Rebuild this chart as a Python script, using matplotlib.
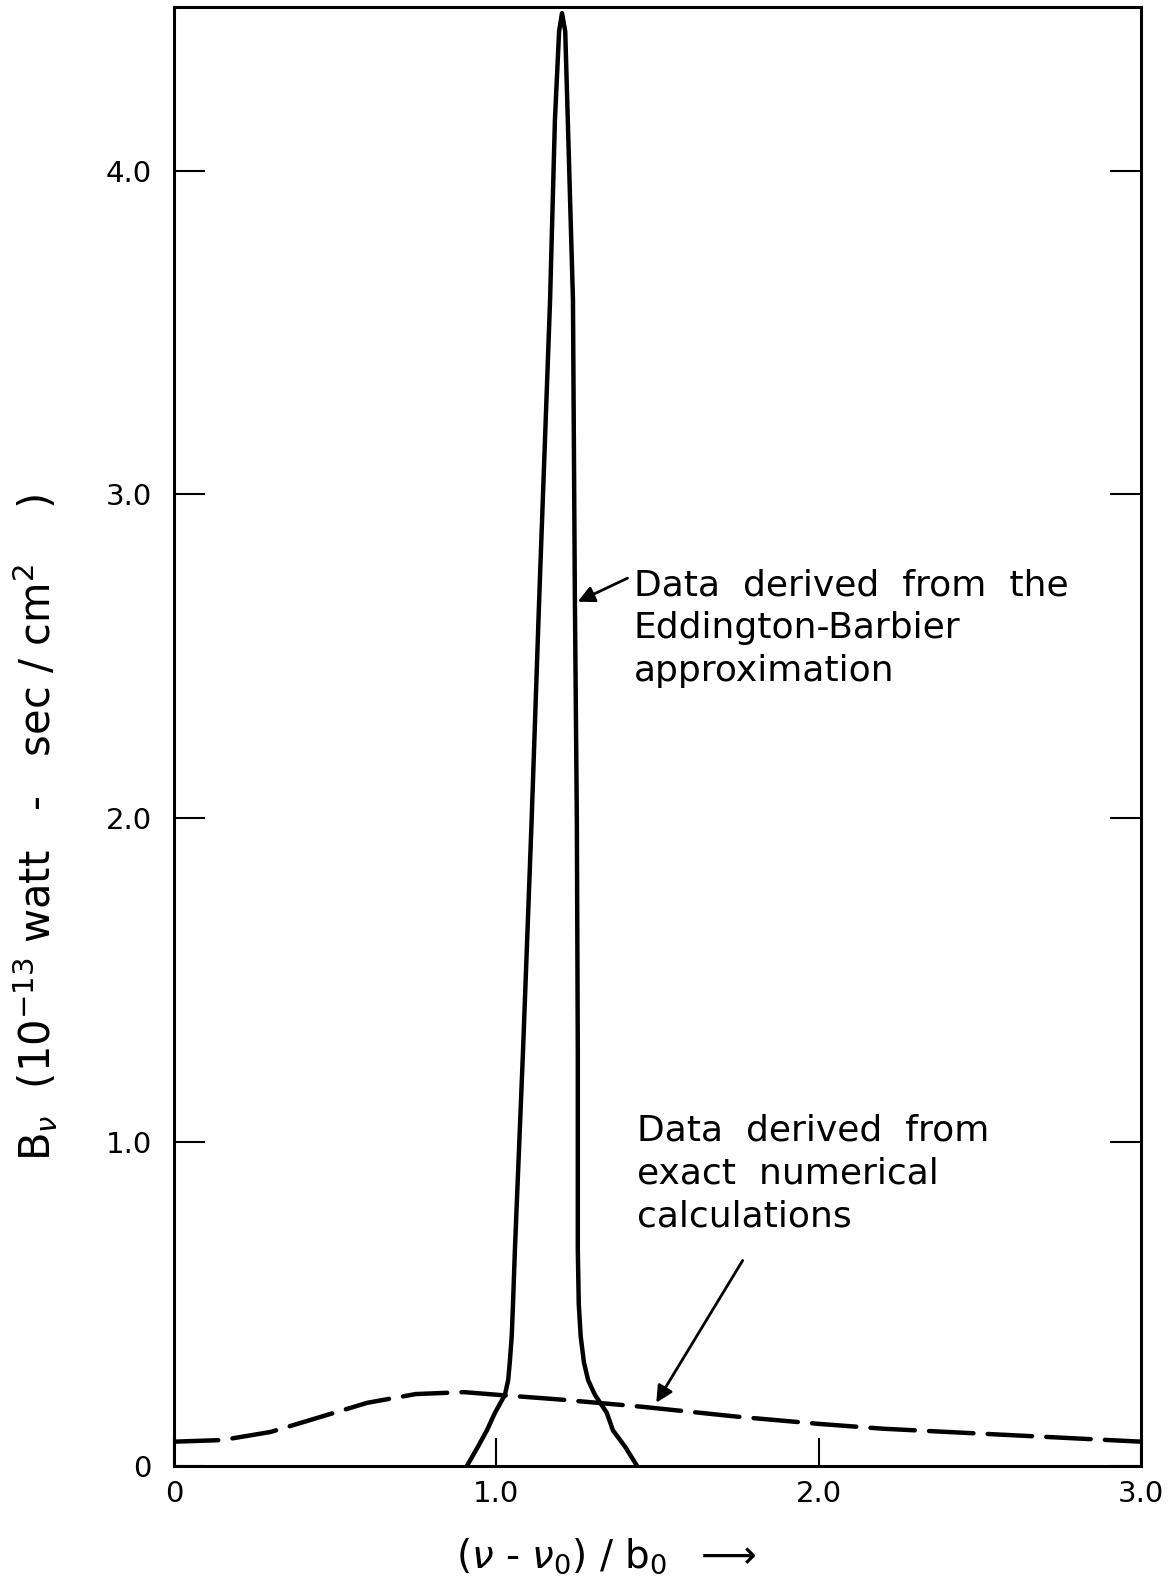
import matplotlib
matplotlib.use('Agg')
import matplotlib.pyplot as plt

# Eddington-Barbier approximation (solid curve)
eb_x = [0.909, 0.943, 0.971, 0.996, 1.027, 1.037, 1.042, 1.048, 1.052, 1.058,
        1.083, 1.110, 1.133, 1.167, 1.182, 1.195, 1.204, 1.214, 1.222, 1.238,
        1.244, 1.250, 1.253, 1.253, 1.256, 1.262, 1.272, 1.285, 1.306, 1.343,
        1.362, 1.400, 1.437]
eb_y = [0.0, 0.059, 0.11, 0.164, 0.22, 0.265, 0.32, 0.40, 0.50, 0.67,
        1.28, 2.0, 2.67, 3.6, 4.155, 4.43, 4.486, 4.43, 4.155, 3.6,
        2.67, 2.0, 1.28, 0.67, 0.50, 0.40, 0.32, 0.265, 0.22, 0.164,
        0.11, 0.059, 0.0]

# exact numerical calculations (dashed curve)
exact_x = [0.0, 0.15, 0.3, 0.45, 0.6, 0.75, 0.9, 1.0, 1.2, 1.45,
           1.75, 2.0, 2.2, 2.4, 2.7, 3.0]
exact_y = [0.075, 0.08, 0.105, 0.15, 0.195, 0.222, 0.228, 0.22, 0.205, 0.183,
           0.152, 0.13, 0.115, 0.105, 0.09, 0.075]

x_ticks = [0, 1, 2, 3]
x_ticklabels = ['0', '1.0', '2.0', '3.0']
y_ticks = [0, 1, 2, 3, 4]
y_ticklabels = ['0', '1.0', '2.0', '3.0', '4.0']

fig = plt.figure(figsize=(11.75, 15.85), dpi=100)
ax = fig.add_axes([0.148, 0.0751, 0.823, 0.9205])

ax.plot(eb_x, eb_y, color='black', lw=3.2, solid_joinstyle='round', solid_capstyle='round')
ax.plot(exact_x, exact_y, color='black', lw=3.2, dashes=(10, 3.2), dash_capstyle='round')

ax.set_xlim(0, 3.0)
ax.set_ylim(0, 4.505)
for s in ax.spines.values():
    s.set_linewidth(2.2)

ax.set_xticks(x_ticks)
ax.set_xticklabels(x_ticklabels)
ax.set_yticks(y_ticks)
ax.set_yticklabels(y_ticklabels)
ax.tick_params(axis='x', direction='in', length=20, width=1.5, labelsize=21, pad=10)
ax.tick_params(axis='y', direction='in', length=22, width=1.5, labelsize=21, pad=16,
               right=True)

# labels
fig.text(0.030, 0.478, r'B$_\nu$  (10$^{-13}$ watt   -   sec / cm$^2$    )', rotation=90,
         ha='center', va='center', fontsize=30)
fig.text(0.516, 0.018, r'$(\nu$ - $\nu_0)$ / b$_0$  $\longrightarrow$', ha='center',
         va='center', fontsize=28)

# annotations
ax.text(1.426, 2.772, 'Data  derived  from  the\nEddington-Barbier\napproximation',
        ha='left', va='top', fontsize=26, linespacing=1.32)
ax.annotate('', xy=(1.245, 2.665), xytext=(1.415, 2.745),
            arrowprops=dict(arrowstyle='-|>', color='black', lw=2, mutation_scale=25))

ax.text(1.437, 1.087, 'Data  derived  from\nexact  numerical\ncalculations',
        ha='left', va='top', fontsize=26, linespacing=1.32)
ax.annotate('', xy=(1.492, 0.188), xytext=(1.769, 0.642),
            arrowprops=dict(arrowstyle='-|>', color='black', lw=2, mutation_scale=25))

fig.savefig('out.png', dpi=100)
